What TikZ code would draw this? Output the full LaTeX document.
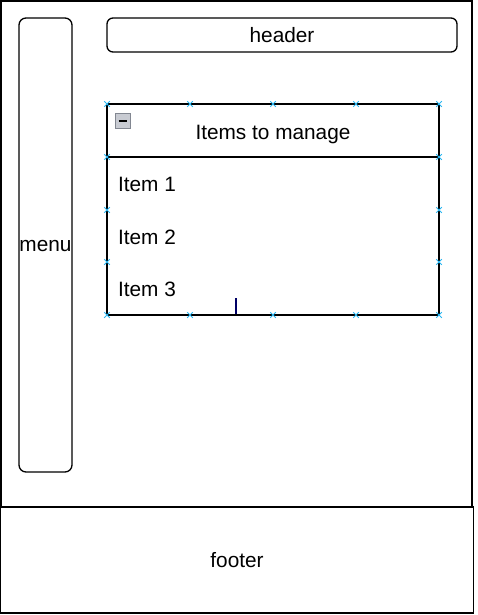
\documentclass[tikz,border=0pt]{standalone}
\usepackage{fontspec}
\setmainfont{Liberation Sans}
\usetikzlibrary{shapes.misc}
\definecolor{handle}{RGB}{41,182,242}
\definecolor{iconfill}{RGB}{200,203,210}
\definecolor{iconedge}{RGB}{130,135,145}
\begin{document}
\begin{tikzpicture}[x=1pt,y=-1pt,
  box/.style={draw=black,line width=1.3pt,rectangle,inner sep=0pt},
  lbl/.style={font=\fontsize{20.8}{24}\selectfont,text=black},
  handlemark/.style={cross out,draw=handle,line width=1pt,minimum size=4.5pt,inner sep=0pt}]
\useasboundingbox (0,0) rectangle (477,615);
\fill[white] (0,0) rectangle (477,615);
% outer frame and footer
\node[box,minimum width=471pt,minimum height=506pt] (frame) at (236.5,254) {};
\node[box,minimum width=473pt,minimum height=106pt,lbl] (footer) at (237,560) {footer};
% menu and header
\node[box,rounded corners=7pt,minimum width=53pt,minimum height=454pt] (menu) at (45.5,245) {};
\node[lbl] (menutext) at (45.5,246.5) {menu};
\node[box,rounded corners=6pt,minimum width=350pt,minimum height=34pt,lbl] (header) at (282,35) {header};
% items list
\node[box,minimum width=332pt,minimum height=53pt] (title) at (273,130.5) {};
\node[lbl] (titletext) at (273,134.5) {Items to manage};
\node[box,minimum width=332pt,minimum height=158pt] (list) at (273,236) {};
\node[lbl,anchor=west] (item1) at (114.5,184.5) {Item 1};
\node[lbl,anchor=west] (item2) at (114.5,237.5) {Item 2};
\node[lbl,anchor=west] (item3) at (114.5,289.5) {Item 3};
% collapse icon
\node[draw=iconedge,fill=iconfill,line width=0.8pt,minimum size=15pt,inner sep=0pt] (icon) at (123,121) {};
\draw[black,line width=1.6pt] ([xshift=3.5pt]icon.west) -- ([xshift=-3.5pt]icon.east);
% text cursor
\coordinate (cur1) at (236,298);
\coordinate (cur2) at (236,314);
\draw[blue!40!black,line width=1.3pt] (cur1) -- (cur2);
% selection handles
\foreach \hx in {107,190,273,356,439} {
  \node[handlemark] at (\hx,104) {};
  \node[handlemark] at (\hx,315) {};
}
\foreach \hy in {157,210,262} {
  \node[handlemark] at (107,\hy) {};
  \node[handlemark] at (439,\hy) {};
}
\end{tikzpicture}
\end{document}
